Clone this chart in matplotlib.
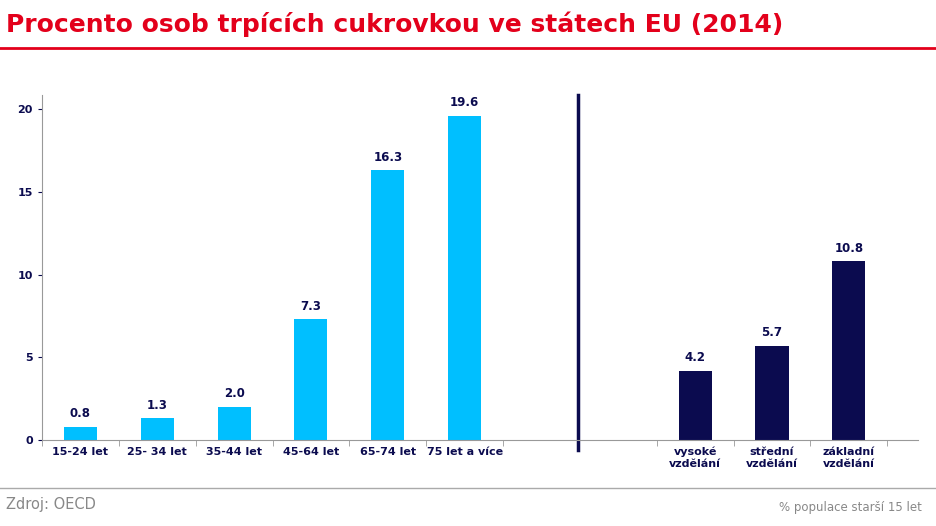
import matplotlib.pyplot as plt

age_labels = ["15-24 let", "25- 34 let", "35-44 let", "45-64 let", "65-74 let", "75 let a více"]
age_values = [0.8, 1.3, 2.0, 7.3, 16.3, 19.6]
edu_labels = ["vysoké\nvzdělání", "střední\nvzdělání", "základní\nvzdělání"]
edu_values = [4.2, 5.7, 10.8]

age_pos = [0, 1, 2, 3, 4, 5]
edu_pos = [8, 9, 10]

W, H = 936, 526
fig = plt.figure(figsize=(W / 100, H / 100), dpi=100)
plt.rcParams["font.family"] = "DejaVu Sans"

ax = fig.add_axes([42 / W, 1 - 440 / H, (918 - 42) / W, (440 - 95) / H])
ax.bar(age_pos, age_values, width=0.43, color="#00BFFF")
ax.bar(edu_pos, edu_values, width=0.43, color="#0B0B4F")
for x, v in zip(age_pos + edu_pos, age_values + edu_values):
    ax.text(x, v + 0.4, f"{v:.1f}", ha="center", va="bottom", fontsize=8.5,
            fontweight="bold", color="#0B0B4F")

ax.set_xlim(-0.48, 10.9)
ax.set_ylim(0, 20.85)
ax.set_yticks([0, 5, 10, 15, 20])
ax.set_xticks(age_pos + edu_pos)
ax.set_xticklabels(age_labels + edu_labels, fontsize=8, fontweight="bold", color="#0B0B4F")
ax.tick_params(axis="y", labelsize=8, colors="#0B0B4F", length=3)
for lbl in ax.get_yticklabels():
    lbl.set_fontweight("bold")
ax.tick_params(axis="x", length=0, pad=5)
ax.set_xticks([-0.5, 0.5, 1.5, 2.5, 3.5, 4.5, 5.5, 7.5, 8.5, 9.5, 10.5], minor=True)
ax.tick_params(axis="x", which="minor", length=4, color="#999999")
for s in ["top", "right"]:
    ax.spines[s].set_visible(False)
ax.spines["left"].set_color("#999999")
ax.spines["bottom"].set_color("#999999")
ax.plot([6.48, 6.48], [-0.6, 20.85], color="#0B0B4F", lw=2.5, clip_on=False)

fig.text(6 / W, 1 - 24 / H, "Procento osob trpících cukrovkou ve státech EU (2014)",
         fontsize=18, fontweight="bold", color="#E3001B", va="center")
fig.add_artist(plt.Line2D([0, 1], [1 - 48 / H, 1 - 48 / H], color="#E3001B", lw=2))
fig.add_artist(plt.Line2D([0, 1], [1 - 488 / H, 1 - 488 / H], color="#AAAAAA", lw=1))
fig.text(6 / W, 1 - 505 / H, "Zdroj: OECD", fontsize=10.5, color="#888888", va="center")
fig.text(922 / W, 1 - 507 / H, "% populace starší 15 let", fontsize=8.5, color="#888888",
         va="center", ha="right")

fig.savefig("out.png", dpi=100)
